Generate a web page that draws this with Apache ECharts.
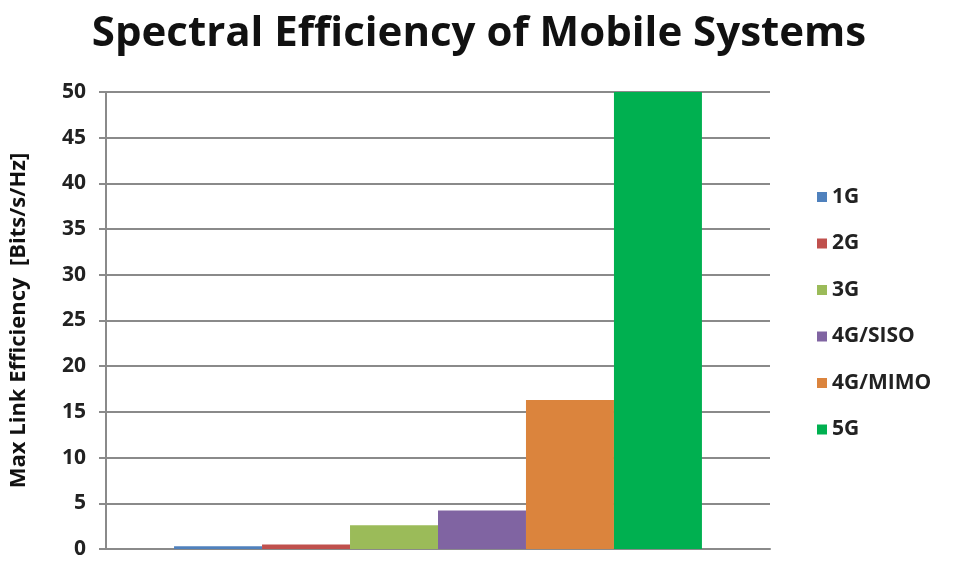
<!DOCTYPE html>
<html><head><meta charset="utf-8">
<script src="https://cdn.jsdelivr.net/npm/echarts@6/dist/echarts.min.js"></script>
<style>html,body{margin:0;padding:0;background:#fff}#c{width:958px;height:561px}</style>
</head><body><div id="c"></div>
<script>
const categories = [''];
const seriesNames = ['1G', '2G', '3G', '4G/SISO', '4G/MIMO', '5G'];
const seriesValues = [0.3, 0.5, 2.6, 4.2, 16.3, 50];
const seriesColors = ['#4F81BD', '#C0504D', '#9BBB59', '#8064A2', '#DB843D', '#00B050'];
const yTicks = { min: 0, max: 50, interval: 5 };

const chart = echarts.init(document.getElementById('c'));
const font = 'Open Sans';
chart.setOption({
  animation: false,
  title: {
    text: 'Spectral Efficiency of Mobile Systems',
    left: 'center', top: 8,
    textStyle: { fontFamily: font, fontWeight: 'bold', fontSize: 42, color: '#111' }
  },
  legend: {
    orient: 'vertical', left: 812, top: 179,
    itemWidth: 10, itemHeight: 10, itemGap: 20.5,
    icon: 'rect',
    textStyle: { fontFamily: font, fontWeight: 'bold', fontSize: 21, lineHeight: 26, color: '#222' },
    data: seriesNames
  },
  grid: { left: 103, right: 188, top: 92, bottom: 12, containLabel: false },
  xAxis: {
    type: 'category', data: categories,
    axisLine: { lineStyle: { color: '#8a8a8a', width: 2 } },
    axisTick: { show: false }, axisLabel: { show: false }
  },
  yAxis: {
    type: 'value', min: yTicks.min, max: yTicks.max, interval: yTicks.interval,
    name: 'Max Link Efficiency  [Bits/s/Hz]', nameLocation: 'middle', nameGap: 76,
    nameTextStyle: { fontFamily: font, fontWeight: 'bold', fontSize: 22, color: '#111' },
    axisLine: { show: true, lineStyle: { color: '#8a8a8a', width: 2 } },
    axisTick: { show: true, length: 7, lineStyle: { color: '#8a8a8a', width: 2 } },
    axisLabel: { fontFamily: font, fontWeight: 'bold', fontSize: 21, color: '#222', margin: 20 },
    splitLine: { lineStyle: { color: '#8a8a8a', width: 2 } }
  },
  series: seriesNames.map((n, i) => ({
    name: n, type: 'bar', data: [seriesValues[i]],
    barGap: '0%', barCategoryGap: '20.5%',
    itemStyle: { color: seriesColors[i] }
  }))
});
</script></body></html>
